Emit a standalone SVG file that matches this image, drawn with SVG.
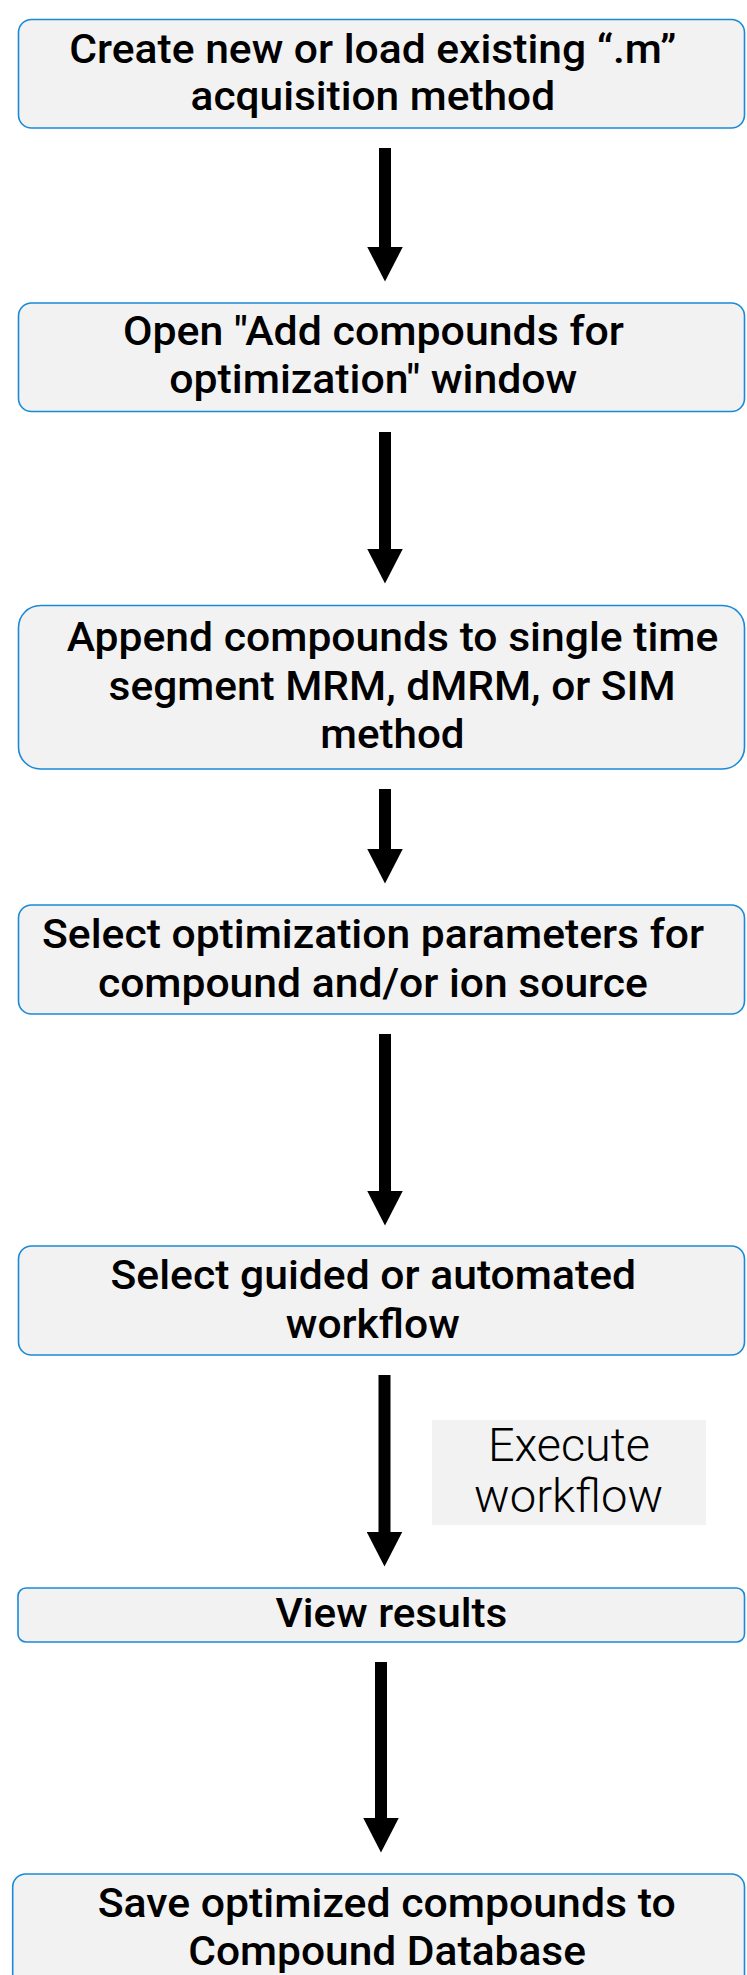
<svg xmlns="http://www.w3.org/2000/svg" width="747" height="1975" viewBox="0 0 747 1975">
  <defs>
    <marker id="arrowhead" viewBox="0 0 35 36" markerWidth="35" markerHeight="36" refX="0.5" refY="18" markerUnits="userSpaceOnUse" orient="auto">
      <path d="M0,0 L35,18 L0,36 Z" fill="#000"/>
    </marker>
    <style>
      .box { fill: #f2f2f2; stroke: #1a8ad8; stroke-width: 1.6; }
      .t { font-family: Roboto, "Liberation Sans", sans-serif; font-weight: 500; font-size: 41px; fill: #000; text-anchor: middle; }
      .lbl { font-family: Roboto, "Liberation Sans", sans-serif; font-weight: 300; font-size: 46px; fill: #000; text-anchor: middle; }
      .conn { stroke: #000; stroke-width: 12; fill: none; marker-end: url(#arrowhead); }
    </style>
  </defs>
  <rect width="747" height="1975" fill="#fff"/>

  <g id="connectors">
    <line class="conn" x1="385" y1="148" x2="385" y2="247"/>
    <line class="conn" x1="385" y1="432" x2="385" y2="549"/>
    <line class="conn" x1="385" y1="789" x2="385" y2="849"/>
    <line class="conn" x1="385" y1="1034" x2="385" y2="1191"/>
    <line class="conn" x1="384.5" y1="1375" x2="384.5" y2="1532"/>
    <line class="conn" x1="381" y1="1662" x2="381" y2="1818"/>
    <g id="edge-label">
      <rect x="432" y="1420" width="274" height="105" fill="#f2f2f2"/>
      <text class="lbl" x="569" y="1461" textLength="162" lengthAdjust="spacingAndGlyphs">Execute</text>
      <text class="lbl" x="568.6" y="1512" textLength="189" lengthAdjust="spacingAndGlyphs">workflow</text>
    </g>
  </g>

  <g id="node1">
    <rect class="box" x="18.5" y="19.5" width="726" height="108.5" rx="13" ry="13"/>
    <text class="t" x="372.8" y="63" textLength="607" lengthAdjust="spacingAndGlyphs">Create new or load existing “.m”</text>
    <text class="t" x="372.8" y="110" textLength="364.5" lengthAdjust="spacingAndGlyphs">acquisition method</text>
  </g>
  <g id="node2">
    <rect class="box" x="18.5" y="303" width="726" height="108.5" rx="13" ry="13"/>
    <text class="t" x="373.5" y="345" textLength="501" lengthAdjust="spacingAndGlyphs">Open "Add compounds for</text>
    <text class="t" x="373.3" y="393" textLength="408" lengthAdjust="spacingAndGlyphs">optimization" window</text>
  </g>
  <g id="node3">
    <rect class="box" x="18.5" y="605.5" width="726" height="163.5" rx="22" ry="22"/>
    <text class="t" x="392.5" y="651" textLength="651.7" lengthAdjust="spacingAndGlyphs">Append compounds to single time</text>
    <text class="t" x="392.1" y="700" textLength="567" lengthAdjust="spacingAndGlyphs">segment MRM, dMRM, or SIM</text>
    <text class="t" x="392.4" y="748" textLength="144.3" lengthAdjust="spacingAndGlyphs">method</text>
  </g>
  <g id="node4">
    <rect class="box" x="18.5" y="905" width="726" height="109" rx="13" ry="13"/>
    <text class="t" x="373" y="948" textLength="662" lengthAdjust="spacingAndGlyphs">Select optimization parameters for</text>
    <text class="t" x="372.9" y="997" textLength="550" lengthAdjust="spacingAndGlyphs">compound and/or ion source</text>
  </g>
  <g id="node5">
    <rect class="box" x="18.5" y="1246" width="726" height="109" rx="13" ry="13"/>
    <text class="t" x="373.3" y="1289" textLength="525.5" lengthAdjust="spacingAndGlyphs">Select guided or automated</text>
    <text class="t" x="372.8" y="1338" textLength="173.9" lengthAdjust="spacingAndGlyphs">workflow</text>
  </g>
  <g id="node6">
    <rect class="box" x="18" y="1588" width="726.5" height="54" rx="8" ry="8"/>
    <text class="t" x="391.4" y="1627" textLength="232" lengthAdjust="spacingAndGlyphs">View results</text>
  </g>
  <g id="node7">
    <rect class="box" x="12.7" y="1874" width="731.8" height="130" rx="13" ry="13"/>
    <text class="t" x="386.7" y="1917" textLength="578" lengthAdjust="spacingAndGlyphs">Save optimized compounds to</text>
    <text class="t" x="387.1" y="1965" textLength="397.8" lengthAdjust="spacingAndGlyphs">Compound Database</text>
  </g>
</svg>
